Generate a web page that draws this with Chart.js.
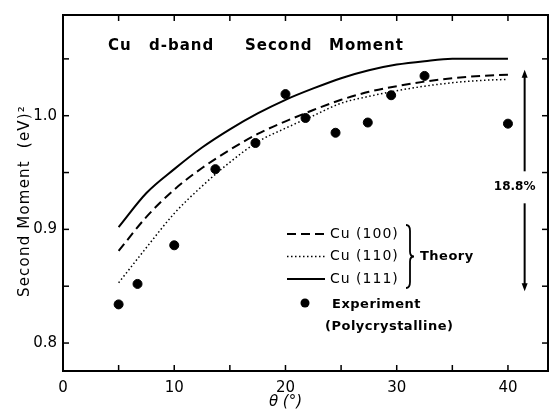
<!DOCTYPE html>
<html>
<head>
<meta charset="utf-8">
<script src="https://cdn.jsdelivr.net/npm/chart.js@4"></script>
<style>
  html, body { margin: 0; padding: 0; background: #fff; }
  canvas { display: block; }
</style>
</head>
<body>
<canvas id="momentChart" width="549" height="414"></canvas>
<script>
// theory curves, theta in degrees
const thetaTheory = [5, 7.5, 10, 12.5, 15, 17.5, 20, 22.5, 25, 27.5, 30, 32.5, 35, 37.5, 40];
const cu100 = [0.881, 0.911, 0.935, 0.954, 0.970, 0.984, 0.995, 1.005, 1.014, 1.021, 1.026, 1.030, 1.033, 1.035, 1.036];
const cu110 = [0.853, 0.884, 0.914, 0.938, 0.959, 0.977, 0.989, 1.000, 1.011, 1.017, 1.022, 1.026, 1.029, 1.031, 1.032];
const cu111 = [0.902, 0.932, 0.953, 0.972, 0.988, 1.002, 1.014, 1.024, 1.033, 1.040, 1.045, 1.048, 1.050, 1.050, 1.050];

// polycrystalline measurements
const thetaExp = [5, 6.7, 10, 13.7, 17.3, 20, 21.8, 24.5, 27.4, 29.5, 32.5, 40];
const momentExp = [0.834, 0.852, 0.886, 0.953, 0.976, 1.019, 0.998, 0.985, 0.994, 1.018, 1.035, 0.993];

const xLabels = [0, 10, 20, 30, 40];
const yLabels = [0.8, 0.9, 1.0];

// spread marker on the right
const spreadTheta = 41.5;
const spreadTop = 1.037;
const spreadBottom = 0.849;
const spreadText = '18.8%';

const FONT = "'DejaVu Sans', sans-serif";

function pts(xs, ys) {
    return xs.map((x, i) => ({ x: x, y: ys[i] }));
}

function line(ctx, x1, y1, x2, y2) {
    ctx.beginPath();
    ctx.moveTo(x1, y1);
    ctx.lineTo(x2, y2);
    ctx.stroke();
}

// box around the plot with inward ticks on all four sides
const frame = {
    id: 'frame',
    afterDraw(chart) {
        const { ctx, chartArea: a, scales: { x, y } } = chart;
        ctx.save();
        ctx.strokeStyle = '#000';
        ctx.lineWidth = 2;
        ctx.strokeRect(a.left, a.top, a.right - a.left, a.bottom - a.top);
        ctx.lineWidth = 1.5;
        x.ticks.forEach(t => {
            const px = x.getPixelForValue(t.value);
            if (px <= a.left + 1 || px >= a.right - 1) return;
            line(ctx, px, a.bottom, px, a.bottom - 6);
            line(ctx, px, a.top, px, a.top + 6);
        });
        y.ticks.forEach(t => {
            const py = y.getPixelForValue(t.value);
            if (py <= a.top + 1 || py >= a.bottom - 1) return;
            line(ctx, a.left, py, a.left + 6, py);
            line(ctx, a.right, py, a.right - 6, py);
        });
        ctx.restore();
    }
};

// title, axis names, key and the spread arrow
const notes = {
    id: 'notes',
    afterDraw(chart) {
        const { ctx, chartArea: a, scales: { x, y } } = chart;
        ctx.save();
        ctx.fillStyle = '#000';
        ctx.strokeStyle = '#000';
        ctx.textBaseline = 'middle';
        ctx.font = 'bold 15px ' + FONT;
        ctx.letterSpacing = '1px';
        ctx.fillText('Cu', a.left + 45, a.top + 31);
        ctx.fillText('d-band', a.left + 86, a.top + 31);
        ctx.fillText('Second', a.left + 182, a.top + 31);
        ctx.fillText('Moment', a.left + 266, a.top + 31);

        // x-axis name, sits under the 20 label
        ctx.font = 'italic 15px ' + FONT;
        ctx.letterSpacing = '0px';
        ctx.textAlign = 'center';
        ctx.fillText('θ (°)', x.getPixelForValue(20), 402);

        // y-axis name
        ctx.save();
        ctx.translate(25, 201);
        ctx.rotate(-Math.PI / 2);
        ctx.font = '15px ' + FONT;
        ctx.letterSpacing = '1.2px';
        ctx.fillText('Second Moment  (eV)²', 0, 0);
        ctx.restore();
        ctx.textAlign = 'left';

        // key
        const kx = a.left + 224, ky = a.top + 219;
        ctx.font = '14px ' + FONT;
        ctx.letterSpacing = '1px';
        const rows = [
            ['Cu (100)', [9, 5], 2],
            ['Cu (110)', [1.5, 2.5], 1.5],
            ['Cu (111)', [], 2]
        ];
        rows.forEach((r, i) => {
            const yy = ky + i * 22.5;
            ctx.lineWidth = r[2];
            ctx.setLineDash(r[1]);
            line(ctx, kx, yy, kx + 38, yy);
            ctx.setLineDash([]);
            ctx.fillText(r[0], kx + 43, yy);
        });
        // brace
        const bx = kx + 122, b0 = ky - 9, b1 = ky + 54, bm = (b0 + b1) / 2;
        ctx.lineWidth = 1.8;
        ctx.beginPath();
        ctx.moveTo(bx - 3, b0);
        ctx.quadraticCurveTo(bx + 1, b0, bx + 1, b0 + 6);
        ctx.lineTo(bx + 1, bm - 5);
        ctx.quadraticCurveTo(bx + 1, bm, bx + 5, bm);
        ctx.quadraticCurveTo(bx + 1, bm, bx + 1, bm + 5);
        ctx.lineTo(bx + 1, b1 - 6);
        ctx.quadraticCurveTo(bx + 1, b1, bx - 3, b1);
        ctx.stroke();
        ctx.font = 'bold 13px ' + FONT;
        ctx.letterSpacing = '0.5px';
        ctx.fillText('Theory', bx + 11, bm);

        ctx.beginPath();
        ctx.arc(kx + 18, ky + 69, 4.5, 0, Math.PI * 2);
        ctx.fill();
        ctx.fillText('Experiment', kx + 45, ky + 71);
        ctx.fillText('(Polycrystalline)', kx + 38, ky + 93);

        // spread arrow
        const sx = x.getPixelForValue(spreadTheta);
        const st = y.getPixelForValue(spreadTop);
        const sb = y.getPixelForValue(spreadBottom);
        const sm = y.getPixelForValue(0.937);
        ctx.lineWidth = 2;
        line(ctx, sx, st, sx, sm - 16);
        line(ctx, sx, sm + 16, sx, sb);
        ctx.beginPath();
        ctx.moveTo(sx, st - 4); ctx.lineTo(sx - 3, st + 4); ctx.lineTo(sx + 3, st + 4);
        ctx.closePath(); ctx.fill();
        ctx.beginPath();
        ctx.moveTo(sx, sb + 4); ctx.lineTo(sx - 3, sb - 4); ctx.lineTo(sx + 3, sb - 4);
        ctx.closePath(); ctx.fill();
        ctx.font = 'bold 12px ' + FONT;
        ctx.letterSpacing = '0px';
        ctx.textAlign = 'center';
        ctx.fillText(spreadText, sx - 10, sm);
        ctx.restore();
    }
};

const ctx = document.getElementById('momentChart').getContext('2d');
const chart = new Chart(ctx, {
    type: 'scatter',
    data: {
        datasets: [
            {
                label: 'Cu (100)',
                data: pts(thetaTheory, cu100),
                showLine: true,
                borderColor: '#000',
                borderWidth: 2,
                borderDash: [9, 5],
                pointRadius: 0,
                cubicInterpolationMode: 'monotone',
            },
            {
                label: 'Cu (110)',
                data: pts(thetaTheory, cu110),
                showLine: true,
                borderColor: '#000',
                borderWidth: 1.5,
                borderDash: [1.5, 2.5],
                pointRadius: 0,
                cubicInterpolationMode: 'monotone',
            },
            {
                label: 'Cu (111)',
                data: pts(thetaTheory, cu111),
                showLine: true,
                borderColor: '#000',
                borderWidth: 2,
                pointRadius: 0,
                cubicInterpolationMode: 'monotone',
            },
            {
                label: 'Experiment',
                data: pts(thetaExp, momentExp),
                showLine: false,
                pointRadius: 4.5,
                backgroundColor: '#000',
                borderColor: '#000',
            },
        ],
    },
    options: {
        responsive: false,
        animation: false,
        layout: { autoPadding: false, padding: { top: 14, right: 1, left: 0, bottom: 0 } },
        plugins: {
            legend: { display: false },
            tooltip: { enabled: false },
        },
        scales: {
            x: {
                type: 'linear',
                min: 0,
                max: 43.6,
                afterFit: (s) => { s.height = 43; },
                border: { display: false },
                grid: { drawOnChartArea: false, drawTicks: false },
                ticks: {
                    stepSize: 5,
                    includeBounds: false,
                    maxRotation: 0,
                    autoSkip: false,
                    padding: 8,
                    color: '#000',
                    font: { family: FONT, size: 15 },
                    callback: (v) => xLabels.includes(v) ? String(v) : '',
                },
            },
            y: {
                min: 0.7754,
                max: 1.0886,
                afterFit: (s) => { s.width = 63; },
                border: { display: false },
                grid: { drawOnChartArea: false, drawTicks: false },
                ticks: {
                    stepSize: 0.05,
                    includeBounds: false,
                    autoSkip: false,
                    padding: 6,
                    color: '#000',
                    font: { family: FONT, size: 15 },
                    callback: (v) => {
                        const hit = yLabels.find(l => Math.abs(l - v) < 1e-6);
                        return hit !== undefined ? hit.toFixed(1) : '';
                    },
                },
            },
        },
    },
    plugins: [frame, notes],
});
</script>
</body>
</html>
